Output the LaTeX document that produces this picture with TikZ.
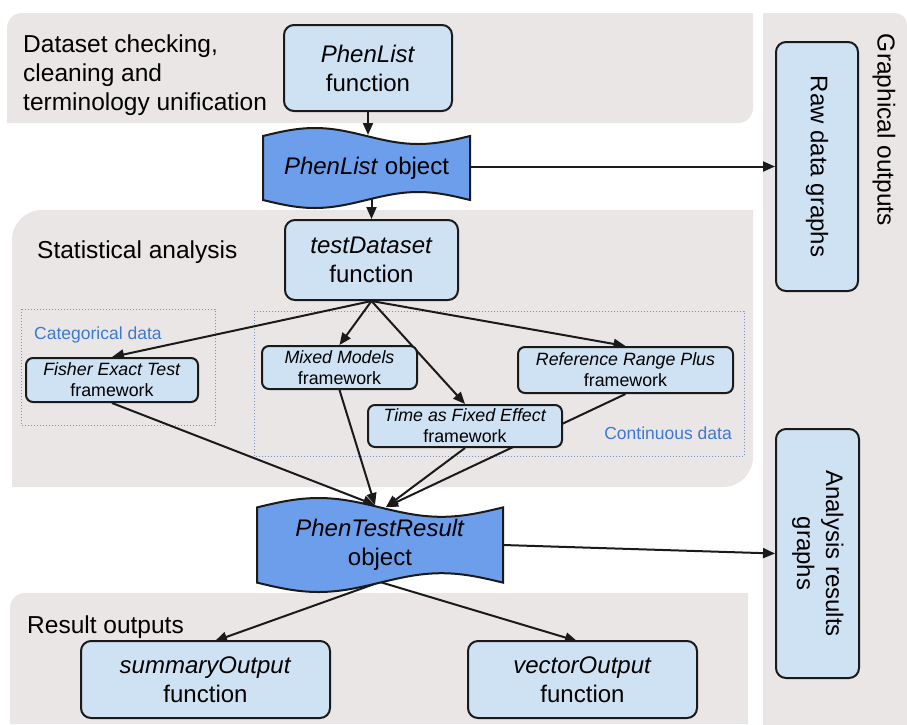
\documentclass[tikz,border=0pt]{standalone}
\usepackage{fontspec}
\setmainfont{Liberation Sans}
\usetikzlibrary{arrows.meta,calc}
\definecolor{panel}{HTML}{EAE6E5}
\definecolor{boxfill}{HTML}{CFE2F3}
\definecolor{wavefill}{HTML}{6D9EEB}
\definecolor{labelblue}{HTML}{3C78D8}
\definecolor{dotc}{HTML}{7A8CC4}
\definecolor{ink}{HTML}{1A1A1A}
\pgfdeclarelayer{background}
\pgfdeclarelayer{edgelayer}
\pgfsetlayers{background,edgelayer,main}
\tikzset{
  bigbox/.style={draw=ink, line width=2pt, fill=boxfill, rounded corners=10pt, inner sep=0pt, align=center, font=\fontsize{24}{29}\selectfont},
  smallbox/.style={draw=ink, line width=2pt, fill=boxfill, rounded corners=7pt, inner sep=0pt, align=center, font=\fontsize{17.8}{21}\selectfont},
  wavetext/.style={inner sep=0pt, align=center, font=\fontsize{24}{29}\selectfont},
  wavebody/.style={fill=wavefill, draw=ink, line width=2pt},
  paneltitle/.style={inner sep=0pt, align=left, font=\fontsize{24.5}{29}\selectfont},
  datalabel/.style={inner sep=0pt, text=labelblue, font=\fontsize{17.5}{21}\selectfont},
  dotbox/.style={draw=dotc, dotted, line width=1pt},
  arr/.style={draw=ink, line width=2pt, -{Triangle[length=12pt,width=10pt]}},
}
\begin{document}
\begin{tikzpicture}[x=1pt,y=-1pt]
\useasboundingbox (0,0) rectangle (907,724);
\begin{pgfonlayer}{background}
  % top panel
  \fill[panel] (7,123) -- (7,70) {[rounded corners=15pt] -- (7,13) -- (300,13)} -- (753,13) -- (753,60) {[rounded corners=15pt] -- (753,123) -- (300,123)} -- cycle;
  % graphical outputs panel
  \fill[panel] (763,13) -- (850,13) {[rounded corners=12pt] -- (907,13) -- (907,300)} -- (907,740) -- (763,740) -- cycle;
  % statistical analysis panel
  \fill[panel] (12,487) -- (12,300) {[rounded corners=30pt] -- (12,210) -- (300,210)} -- (753,210) -- (753,400) {[rounded corners=30pt] -- (753,487) -- (400,487)} -- cycle;
  % result outputs panel
  \fill[panel] (10,724) -- (10,650) {[rounded corners=15pt] -- (10,593) -- (300,593)} -- (748,593) -- (748,724) -- cycle;
  % dotted group boxes
  \draw[dotbox] (21,309) rectangle (215,425);
  \draw[dotbox] (254,311) rectangle (744,456);
\end{pgfonlayer}

% panel titles
\node[paneltitle, anchor=north west] (t1) at (23,35) {Dataset checking,\\cleaning and\\terminology unification};
\node[paneltitle, anchor=base west] (t2) at (37,258) {Statistical analysis};
\node[paneltitle, anchor=base west] (t3) at (27,633) {Result outputs};
\node[paneltitle, rotate=-90] (t4) at (884,130) {Graphical outputs};
\node[datalabel, anchor=base west] (cat) at (34,339) {Categorical data};
\node[datalabel, anchor=base east] (cont) at (732,439) {Continuous data};

% boxes
\node[bigbox, minimum width=168pt, minimum height=86pt] (plf) at (368,68) {\textit{PhenList}\\function};
\filldraw[wavebody] (263,136) sin (314.75,128) cos (366.5,136) sin (418.25,144) cos (470,136) -- (470,200) sin (418.25,192) cos (366.5,200) sin (314.75,208) cos (263,200) -- cycle;
\node[wavetext, minimum width=207pt, minimum height=80pt] (plo) at (366.5,168) {\textit{PhenList} object};
\node[bigbox, minimum width=173pt, minimum height=80pt] (tdf) at (371.5,260) {\textit{testDataset}\\function};
\node[smallbox, minimum width=172pt, minimum height=44pt] (fet) at (112,380) {\textit{Fisher Exact Test}\\framework};
\node[smallbox, minimum width=155pt, minimum height=43pt] (mm) at (339.5,367.5) {\textit{Mixed Models}\\framework};
\node[smallbox, minimum width=194pt, minimum height=42pt] (tfe) at (465,426) {\textit{Time as Fixed Effect}\\framework};
\node[smallbox, minimum width=215pt, minimum height=46pt] (rrp) at (625.5,370) {\textit{Reference Range Plus}\\framework};
\filldraw[wavebody] (257,507.4) sin (318.5,498) cos (380,507.4) sin (441.5,516.8) cos (503,507.4) -- (503,582.6) sin (441.5,573.2) cos (380,582.6) sin (318.5,592) cos (257,582.6) -- cycle;
\node[wavetext, minimum width=246pt, minimum height=94pt] (ptr) at (380,545) {\textit{PhenTestResult}\\object};
\node[bigbox, minimum width=249pt, minimum height=77pt] (so) at (205.5,679.5) {\textit{summaryOutput}\\function};
\node[bigbox, minimum width=229pt, minimum height=77pt] (vo) at (582.5,679.5) {\textit{vectorOutput}\\function};
\node[bigbox, minimum width=82pt, minimum height=249pt] (rdg) at (817,166.5) {\rotatebox{-90}{Raw data graphs}};
\node[bigbox, minimum width=83pt, minimum height=249pt] (arg) at (817.5,553.5) {\rotatebox{-90}{\begin{tabular}{@{}c@{}}Analysis results\\graphs\end{tabular}}};

% connector end points
\coordinate (ploIn) at (368,135);
\coordinate (inL) at (375,505);
\coordinate (inR) at (386,507);
\coordinate (ptrOut) at (380,582);
\coordinate (soIn) at (215,641);
\coordinate (voIn) at (577,641);

\begin{pgfonlayer}{edgelayer}
  \draw[arr] (plf.south) -- (ploIn);
  \draw[arr] (tdf.north |- plo.center) -- (tdf.north);
  \draw[arr] (plo.east |- rdg.west) -- (rdg.west);
  \draw[arr] (tdf.south) -- (fet.north);
  \draw[arr] (tdf.south) -- (mm.north);
  \draw[arr] (tdf.south) -- (tfe.north);
  \draw[arr] (tdf.south) -- (rrp.north);
  \draw[arr] (fet.south) -- (inL);
  \draw[arr] (mm.south) -- (inL);
  \draw[arr] (tfe.south) -- (inR);
  \draw[arr] (rrp.south) -- (inR);
  \draw[arr] (ptrOut) -- (soIn);
  \draw[arr] (ptrOut) -- (voIn);
  \draw[arr] (ptr.east) -- (arg.west);
\end{pgfonlayer}
\end{tikzpicture}
\end{document}
